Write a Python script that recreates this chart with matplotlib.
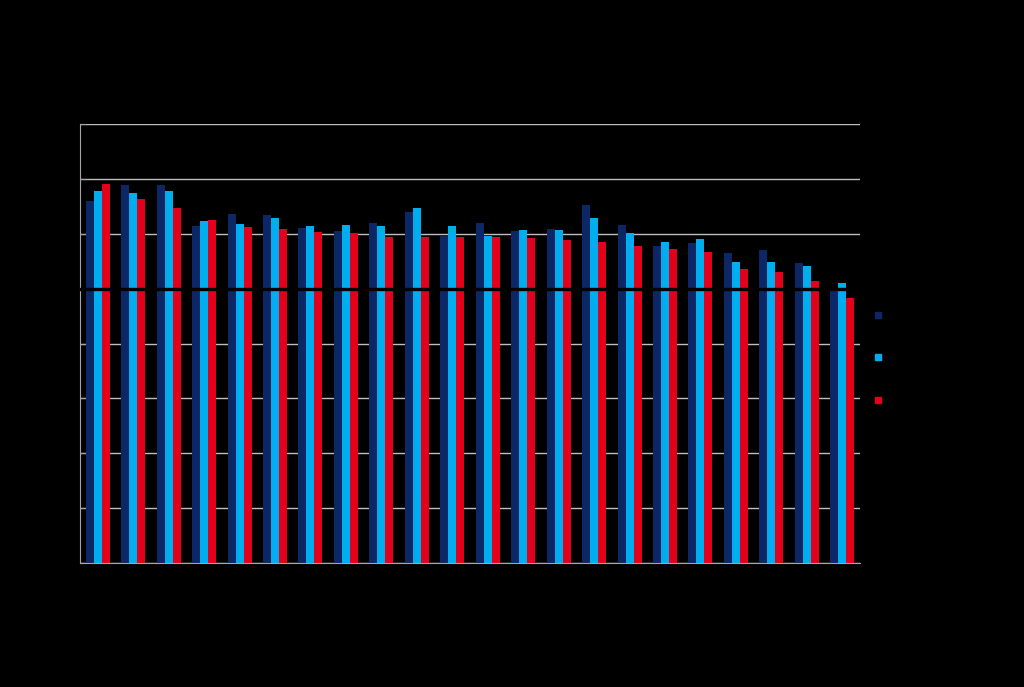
import matplotlib
matplotlib.use("Agg")
import matplotlib.pyplot as plt
import numpy as np
from matplotlib.lines import Line2D

# values (axis text is black on black, so scale is 0-160 guessed)
groups = [str(i) for i in range(1, 23)]
series_a = [131.9, 137.8, 137.8, 122.8, 127.1, 126.9, 122.2, 121.0, 123.8, 128.0, 119.3,
            124.0, 121.1, 121.7, 130.4, 123.2, 115.6, 116.7, 113.1, 114.1, 109.4, 99.5]
series_b = [135.7, 134.9, 135.7, 124.6, 123.4, 125.8, 122.9, 123.2, 122.7, 129.4, 122.7,
            119.2, 121.4, 121.4, 125.6, 120.1, 117.0, 118.0, 109.6, 109.6, 108.2, 101.9]
series_c = [138.1, 132.5, 129.5, 124.9, 122.6, 121.6, 120.5, 120.1, 118.9, 118.7, 118.7,
            118.7, 118.3, 117.8, 117.0, 115.4, 114.5, 113.3, 107.3, 106.2, 102.9, 96.7]
series_names = ["Series A", "Series B", "Series C"]
reference_level = 100
yticks = [0, 20, 40, 60, 80, 100, 120, 140, 160]

colors = ["#0b2766", "#00aeef", "#e2001a"]

fig = plt.figure(figsize=(10.24, 6.87), dpi=100, facecolor="black")
ax = fig.add_axes([80 / 1024, 124 / 687, 780 / 1024, 439 / 687])
ax.set_facecolor("black")

x = np.arange(len(groups))
w = 0.225
for i, (vals, c) in enumerate(zip([series_a, series_b, series_c], colors)):
    ax.bar(x + (i - 1) * w, vals, width=w, color=c, zorder=2)

ax.axhline(reference_level, color="black", linewidth=2.4, zorder=3)

ax.set_xlim(-0.5, len(groups) - 0.5)
ax.set_ylim(0, 160)
ax.set_yticks(yticks)
ax.set_yticklabels([str(t) for t in yticks], color="black")
ax.set_xticks(x)
ax.set_xticklabels(groups, color="black")
ax.tick_params(axis="y", direction="in", length=4, color="#a6a6a6")
ax.tick_params(axis="x", length=0)
ax.grid(axis="y", color="#bfbfbf", linewidth=1, zorder=1)
ax.set_axisbelow(True)

for side in ["top", "right"]:
    ax.spines[side].set_visible(False)
ax.spines["left"].set_color("#a6a6a6")
ax.spines["bottom"].set_color("#a6a6a6")

handles = [Line2D([], [], linestyle="none", marker="s", markersize=5,
                  markerfacecolor=c, markeredgecolor=c) for c in colors]
leg = fig.legend(handles, series_names, loc="upper left", bbox_to_anchor=(0.838, 0.569),
                 frameon=False, labelspacing=2.05, handlelength=1, fontsize=10)
for t in leg.get_texts():
    t.set_color("black")

fig.savefig("out.png", dpi=100, facecolor="black")
